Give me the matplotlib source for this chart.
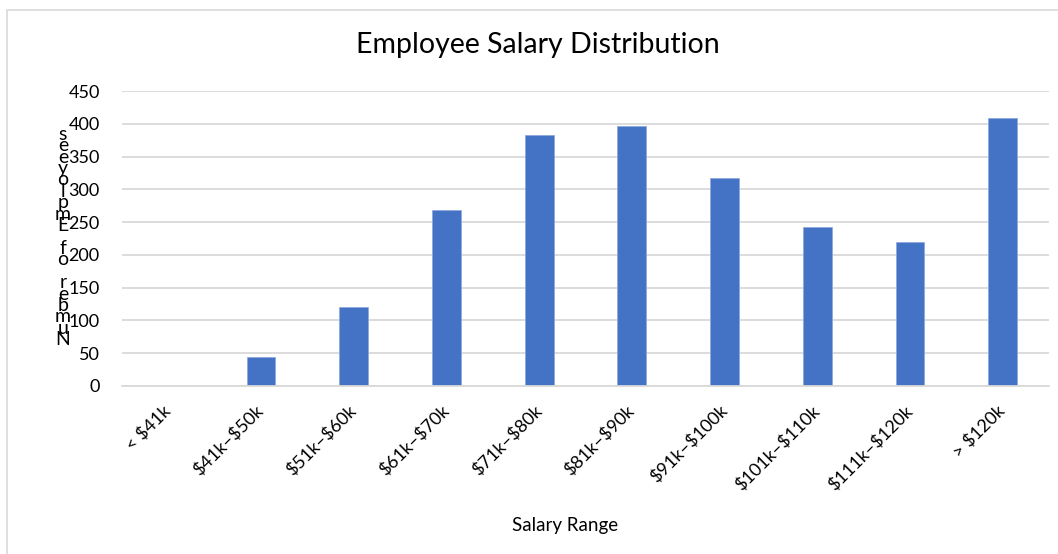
import matplotlib
matplotlib.use("Agg")
import matplotlib.pyplot as plt
from matplotlib.patches import Rectangle

categories = ["< $41k", "$41k–$50k", "$51k–$60k", "$61k–$70k", "$71k–$80k",
              "$81k–$90k", "$91k–$100k", "$101k–$110k", "$111k–$120k", "> $120k"]
employees = [0, 44, 121, 269, 383, 396, 317, 242, 219, 409]
yticks = [0, 50, 100, 150, 200, 250, 300, 350, 400, 450]

W, H = 1058, 554
plt.rcParams['font.family'] = ['Lato', 'DejaVu Sans']
plt.rcParams['text.parse_math'] = False

fig = plt.figure(figsize=(W / 100, H / 100), dpi=100)

# chart border (only top and left show in the crop)
fig.patches.append(Rectangle((7 / W, -0.1), 1.2, 1 - 10 / H + 0.1,
                             transform=fig.transFigure, fill=False,
                             edgecolor="#d9d9d9", linewidth=1.2))

ax = fig.add_axes([122 / W, 1 - 386 / H, (1049 - 122) / W, (386 - 91) / H])
x = range(len(categories))
ax.bar(x, employees, width=0.31, color="#4472C4", edgecolor="#8faadc",
       linewidth=0.6, zorder=3)
ax.set_xlim(-0.5, len(categories) - 0.5)
ax.set_ylim(0, 450)
ax.set_yticks(yticks)
ax.yaxis.grid(True, color="#d9d9d9", linewidth=1.3)
ax.set_axisbelow(True)
for s in ["top", "right", "left"]:
    ax.spines[s].set_visible(False)
ax.spines["bottom"].set_color("#d9d9d9")
ax.spines["bottom"].set_linewidth(1.3)
ax.spines["bottom"].set_zorder(4)
ax.tick_params(axis="y", length=0, pad=16, labelsize=13, labelcolor="#000000")
ax.tick_params(axis="x", length=0, pad=16, labelsize=13)
ax.set_xticks(list(x))
ax.set_xticklabels(categories, rotation=45, ha="right", va="center",
                   rotation_mode="anchor")

fig.text(538 / W, 1 - 45 / H, "Employee Salary Distribution", fontsize=20.5,
         ha="center", va="center")
fig.text(565 / W, 1 - 525 / H, "Salary Range", fontsize=13.5,
         ha="center", va="center")
ylab = "\n".join(reversed("Number of Employees"))
fig.text(63 / W, 1 - 237 / H, ylab, fontsize=14, ha="center", va="center",
         linespacing=0.6)

fig.savefig("out.png", dpi=100)
